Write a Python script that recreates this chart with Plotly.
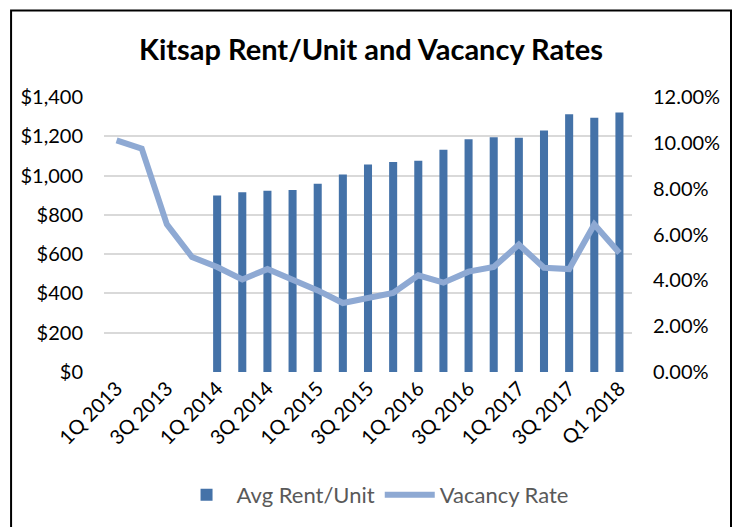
import plotly.graph_objects as go

quarters = [
    "1Q 2013", "2Q 2013", "3Q 2013", "4Q 2013",
    "1Q 2014", "2Q 2014", "3Q 2014", "4Q 2014",
    "1Q 2015", "2Q 2015", "3Q 2015", "4Q 2015",
    "1Q 2016", "2Q 2016", "3Q 2016", "4Q 2016",
    "1Q 2017", "2Q 2017", "3Q 2017", "4Q 2017",
    "Q1 2018",
]
# no rent data before 1Q 2014
avg_rent = [
    None, None, None, None,
    898, 915, 923, 927,
    959, 1006, 1056, 1069,
    1076, 1132, 1185, 1195,
    1192, 1229, 1312, 1295,
    1321,
]
vacancy_pct = [
    10.11, 9.75, 6.44, 5.02,
    4.58, 4.04, 4.49, 4.03,
    3.56, 3.01, 3.25, 3.45,
    4.22, 3.90, 4.38, 4.58,
    5.56, 4.55, 4.49, 6.44,
    5.19,
]
shown_ticks = quarters[::2]

bar_color = "#4472A8"
line_color = "#8EA9D3"
font_family = "Lato, 'Open Sans', sans-serif"

fig = go.Figure()

fig.add_trace(go.Bar(
    x=quarters, y=avg_rent, name="Avg Rent/Unit",
    marker=dict(color=bar_color, line=dict(width=0)),
    yaxis="y",
))

fig.add_trace(go.Scatter(
    x=quarters, y=vacancy_pct, name="Vacancy Rate",
    mode="lines", line=dict(color=line_color, width=6),
    yaxis="y2",
))

fig.update_layout(
    width=740, height=527,
    margin=dict(l=96, r=116, t=89, b=163, autoexpand=False),
    paper_bgcolor="white", plot_bgcolor="white",
    font=dict(family=font_family, size=20, color="#000000"),
    title=dict(
        text="<b>Kitsap Rent/Unit and Vacancy Rates</b>",
        x=0.4905, xref="container", xanchor="center",
        y=0.92, yref="container", yanchor="middle",
        font=dict(size=29, color="#000000"),
    ),
    bargap=0.68,
    showlegend=True,
    legend=dict(
        orientation="h", x=0.496, xref="container", xanchor="center",
        y=0.076, yref="container", yanchor="middle",
        font=dict(size=22, color="#595959"),
        itemwidth=50,
    ),
    xaxis=dict(
        tickmode="array", tickvals=shown_ticks, ticktext=shown_ticks,
        tickangle=-45, showgrid=False, zeroline=False, automargin=False,
        showline=False, ticks="", tickfont=dict(size=20),
    ),
    yaxis=dict(
        range=[0, 1400], dtick=200, tickprefix="$", tickformat=",",
        showgrid=True, gridcolor="#D9D9D9", gridwidth=1.5, automargin=False,
        zeroline=False, showline=False, ticklabelstandoff=20,
    ),
    yaxis2=dict(
        range=[0, 12], dtick=2, tickformat=".2f", ticksuffix="%",
        overlaying="y", side="right", showgrid=False, zeroline=False,
        showline=False, ticklabelstandoff=20, automargin=False,
    ),
    shapes=[
        dict(type="rect", xref="paper", yref="paper",
             x0=-0.176, x1=1.1875, y0=-0.6, y1=1.315,
             line=dict(color="black", width=2), fillcolor="rgba(0,0,0,0)"),
    ],
)

fig.write_html("out.html")
